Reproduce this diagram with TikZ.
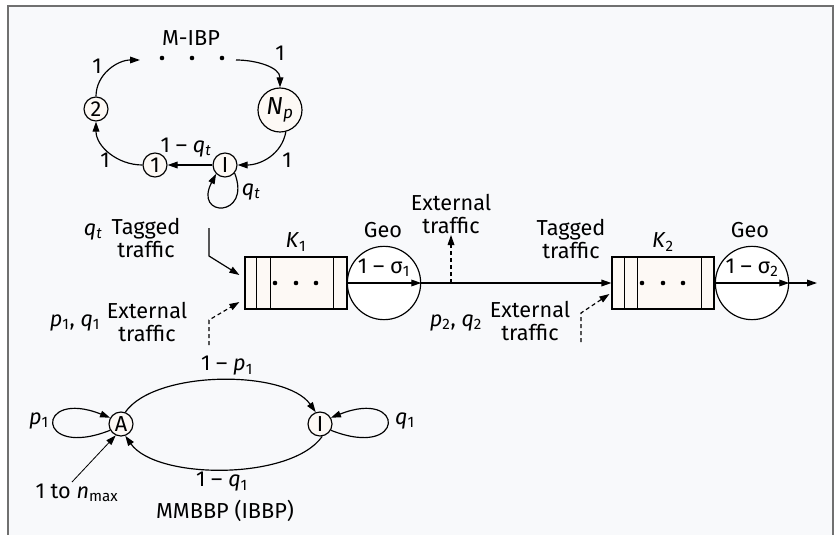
\documentclass[tikz,border=0pt]{standalone}
\usepackage{fontspec}
\setmainfont{Fira Sans}
\usetikzlibrary{arrows.meta,calc}
\newcommand{\ivar}[2]{\textit{#1}\textsubscript{#2}}
\definecolor{panel}{HTML}{F8F9FB}
\definecolor{cream}{HTML}{FDF9F5}
\definecolor{rim}{HTML}{707070}

\begin{document}
\begin{tikzpicture}[x=0.03cm,y=-0.03cm,
    font=\fontsize{18.5}{19}\selectfont,
    state/.style={circle,draw=black,fill=cream,line width=1pt,
        minimum size=0.72cm,inner sep=0pt},
    bigstate/.style={state,minimum size=1.32cm},
    queue/.style={rectangle,draw=black,fill=cream,line width=1pt,
        minimum width=3.06cm,minimum height=1.56cm},
    server/.style={circle,draw=black,fill=white,line width=1pt,
        minimum size=2.2cm,inner sep=0pt},
    line/.style={draw=black,line width=1pt},
    arrow/.style={line,-{Triangle[length=3mm,width=2mm]}},
    dasharrow/.style={arrow,dash pattern=on 1.2mm off 0.9mm},
    lab/.style={inner sep=0pt,align=center}
]
\useasboundingbox (0,0) rectangle (835,535);
\fill[panel] (8,6) rectangle (833,535);
\draw[rim,line width=2pt] (8,535) -- (8,6) -- (833,6) -- (833,535);

% M-IBP chain
\node[state] (s2) at (96,109) {2};
\node[state] (s1) at (155,165) {1};
\node[state] (ti) at (225,165) {I};
\node[bigstate] (np) at (280,110) {\fontsize{21}{21}\selectfont\textit{N}\textsubscript{\textit{p}}};
\coordinate (dl) at (140,60);
\coordinate (dr) at (236,60);
\fill (162,58) circle (2.3) (192,58) circle (2.3) (222,58) circle (2.3);
\draw[arrow] (s2.north) to[out=90,in=180] (dl);
\draw[arrow] (dr) to[out=0,in=90] (np.north);
\draw[arrow] (np.-75) to[out=-100,in=0] (ti.east);
\draw[arrow] (ti.west) -- (s1.east);
\draw[arrow] (s1.west) to[out=180,in=-90] (s2.south);
\draw[arrow] (ti.-40) .. controls (252,218) and (193,218) .. (ti.-135);
\node[lab] at (191,38) {M-IBP};
\node[lab] at (97,66) {1};
\node[lab] at (280,53) {1};
\node[lab] at (287,160) {1};
\node[lab] at (105,160) {1};
\node[lab] at (186,148) {1 – \textit{q}\textsubscript{\textit{t}}};
\node[lab] at (251,192) {\textit{q}\textsubscript{\textit{t}}};

% queues and servers
\node[queue] (k1) at (296,283) {};
\node[server] (g1) at (384,283) {};
\node[queue] (k2) at (663,283) {};
\node[server] (g2) at (752,283) {};
\draw[line] ($(k1.north west)+(12,0)$) -- ($(k1.south west)+(12,0)$);
\draw[line] ($(k1.north west)+(26,0)$) -- ($(k1.south west)+(26,0)$);
\draw[line] ($(k1.north east)+(-14,0)$) -- ($(k1.south east)+(-14,0)$);
\draw[line] ($(k2.north west)+(13,0)$) -- ($(k2.south west)+(13,0)$);
\draw[line] ($(k2.north west)+(26,0)$) -- ($(k2.south west)+(26,0)$);
\draw[line] ($(k2.north east)+(-13,0)$) -- ($(k2.south east)+(-13,0)$);
\fill ($(k1.center)+(-21,0)$) circle (2.3) (k1.center) circle (2.3)
    ($(k1.center)+(20,0)$) circle (2.3);
\fill ($(k2.center)+(-21,0)$) circle (2.3) (k2.center) circle (2.3)
    ($(k2.center)+(20,0)$) circle (2.3);
\node[lab] at (296,242) {\ivar{K}{1}};
\node[lab] at (663,242) {\ivar{K}{2}};
\node[lab] at (383,230) {Geo};
\node[lab] at (750,230) {Geo};
\node[lab] at (384,268) {1 – σ\textsubscript{1}};
\node[lab] at (752,268) {1 – σ\textsubscript{2}};

\coordinate (out) at (817,283);
\coordinate (tap) at (451,283);
\draw[arrow] (k1.east) -- (g1.east);
\draw[arrow] (g1.east) -- (k2.west);
\draw[arrow] (k2.east) -- (g2.east);
\draw[arrow] (g2.east) -- (out);
\draw[dasharrow] (tap) -- ++(0,-48);

\coordinate (tagin) at (209,228);
\draw[arrow] (tagin) -- ++(0,28) -- ($(k1.west)+(-5,-8)$);
\coordinate (ext1) at (209,345);
\draw[dasharrow] (ext1) -- ++(0,-25) -- ($(k1.west)+(-5,19)$);
\coordinate (ext2) at (581,342);
\draw[dasharrow] (ext2) -- ++(0,-29) -- ($(k2.west)+(-2,11)$);

\node[lab] at (93,232) {\textit{q}\textsubscript{\textit{t}}};
\node[lab] at (146,238) {Tagged\\traffic};
\node[lab] at (451,214) {External\\traffic};
\node[lab] at (571,239) {Tagged\\traffic};
\node[lab] at (75,323) {\ivar{p}{1}, \ivar{q}{1}};
\node[lab] at (147,322) {External\\traffic};
\node[lab] at (456,323) {\ivar{p}{2}, \ivar{q}{2}};
\node[lab] at (530,321) {External\\traffic};

% MMBBP (IBBP)
\node[state] (ba) at (121,424) {A};
\node[state] (bi) at (320,424) {I};
\draw[arrow] (ba.70) to[out=55,in=125,looseness=0.7] (bi.110);
\draw[arrow] (bi.-80) to[out=-125,in=-55,looseness=0.7] (ba.-70);
\draw[arrow] (ba.-150) .. controls (35,460) and (35,388) .. (ba.150);
\draw[arrow] (bi.-30) .. controls (406,460) and (406,388) .. (bi.30);
\coordinate (nin) at (72,482);
\draw[arrow,line width=0.7pt] (nin) -- (ba.-115);
\node[lab] at (227,366) {1 – \ivar{p}{1}};
\node[lab] at (222,482) {1 – \ivar{q}{1}};
\node[lab] at (225,511) {MMBBP (IBBP)};
\node[lab] at (39,421) {\ivar{p}{1}};
\node[lab] at (405,421) {\ivar{q}{1}};
\node[lab] at (77,493) {1 to \textit{n}\textsubscript{max}};
\end{tikzpicture}
\end{document}
